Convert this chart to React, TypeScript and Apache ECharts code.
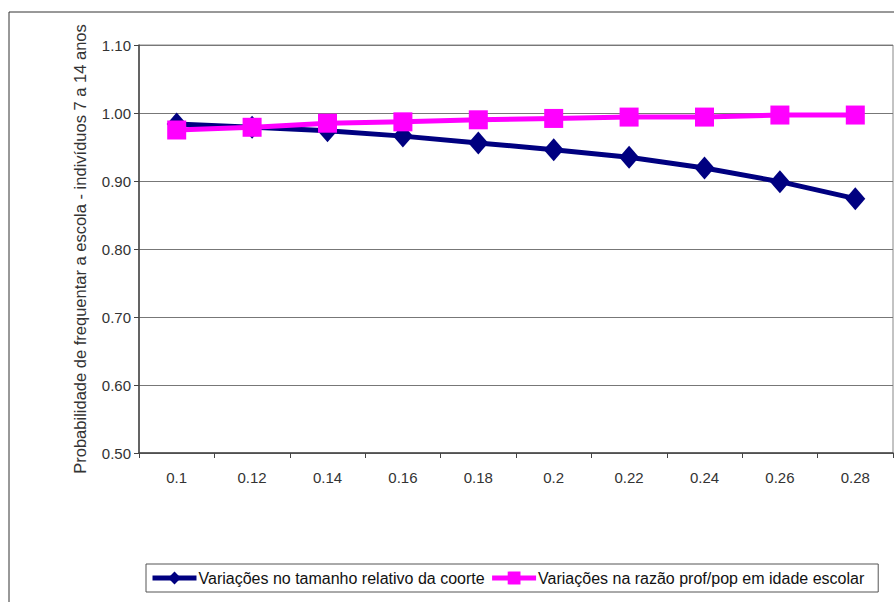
import React, { useEffect, useRef } from "react";
import * as echarts from "echarts";

const categories = ["0.1", "0.12", "0.14", "0.16", "0.18", "0.2", "0.22", "0.24", "0.26", "0.28"];
const coorteValues = [0.984, 0.979, 0.974, 0.966, 0.956, 0.946, 0.935, 0.919, 0.899, 0.874];
const razaoValues = [0.975, 0.979, 0.985, 0.987, 0.990, 0.992, 0.994, 0.994, 0.997, 0.997];
const seriesNames = [
  "Variações no tamanho relativo da coorte",
  "Variações na razão prof/pop em idade escolar",
];
const yAxisTitle = "Probabilidade de frequentar a escola - indivíduos 7 a 14 anos";

export default function App() {
  const ref = useRef<HTMLDivElement>(null);
  useEffect(() => {
    if (!ref.current) return;
    const chart = echarts.init(ref.current, undefined, { renderer: "svg" });
    const font = "'Liberation Sans', Arial, sans-serif";
    chart.setOption({
      animation: false,
      backgroundColor: "#ffffff",
      textStyle: { fontFamily: font },
      graphic: [
        {
          type: "rect",
          shape: { x: 9, y: 12, width: 900, height: 600 },
          style: { fill: "none", stroke: "#333", lineWidth: 1 },
          silent: true,
          z: -1,
        },
      ],
      grid: { left: 139, top: 45, right: 1, bottom: 149, show: true, borderColor: "#888", borderWidth: 1 },
      xAxis: {
        type: "category",
        data: categories,
        boundaryGap: true,
        axisLine: { lineStyle: { color: "#444", width: 1.5 } },
        axisTick: { show: true, length: 5, lineStyle: { color: "#444" } },
        axisLabel: { color: "#333", fontSize: 15, margin: 17, fontFamily: font },
        splitLine: { show: false },
      },
      yAxis: {
        type: "value",
        min: 0.5,
        max: 1.1,
        interval: 0.1,
        name: yAxisTitle,
        nameLocation: "middle",
        nameGap: 51,
        nameTextStyle: { color: "#333", fontSize: 16.5, fontFamily: font },
        axisLine: { show: true, lineStyle: { color: "#444", width: 1.5 } },
        axisTick: { show: true, length: 5, lineStyle: { color: "#444" } },
        axisLabel: {
          color: "#333",
          fontSize: 15,
          margin: 8,
          fontFamily: font,
          formatter: (v: number) => v.toFixed(2),
        },
        splitLine: { show: true, lineStyle: { color: "#777", width: 1 } },
      },
      legend: {
        left: 146,
        top: 564,
        itemWidth: 44,
        itemHeight: 16,
        itemGap: 5,
        padding: [6, 14, 6, 4],
        borderColor: "#555",
        borderWidth: 1,
        lineStyle: { width: 5 },
        textStyle: { color: "#111", fontSize: 16, fontFamily: font, padding: [0, 0, 0, -3] },
        data: seriesNames,
      },
      series: [
        {
          name: seriesNames[0],
          type: "line",
          data: coorteValues,
          symbol: "diamond",
          symbolSize: [20, 23],
          lineStyle: { color: "#000080", width: 5 },
          itemStyle: { color: "#000080" },
          z: 2,
        },
        {
          name: seriesNames[1],
          type: "line",
          data: razaoValues,
          symbol: "rect",
          symbolSize: 19,
          lineStyle: { color: "#ff00ff", width: 5 },
          itemStyle: { color: "#ff00ff" },
          z: 3,
        },
      ],
    });
    return () => chart.dispose();
  }, []);
  return (
    <div
      ref={ref}
      style={{ position: "absolute", left: 0, top: 0, width: 894, height: 602 }}
    />
  );
}
